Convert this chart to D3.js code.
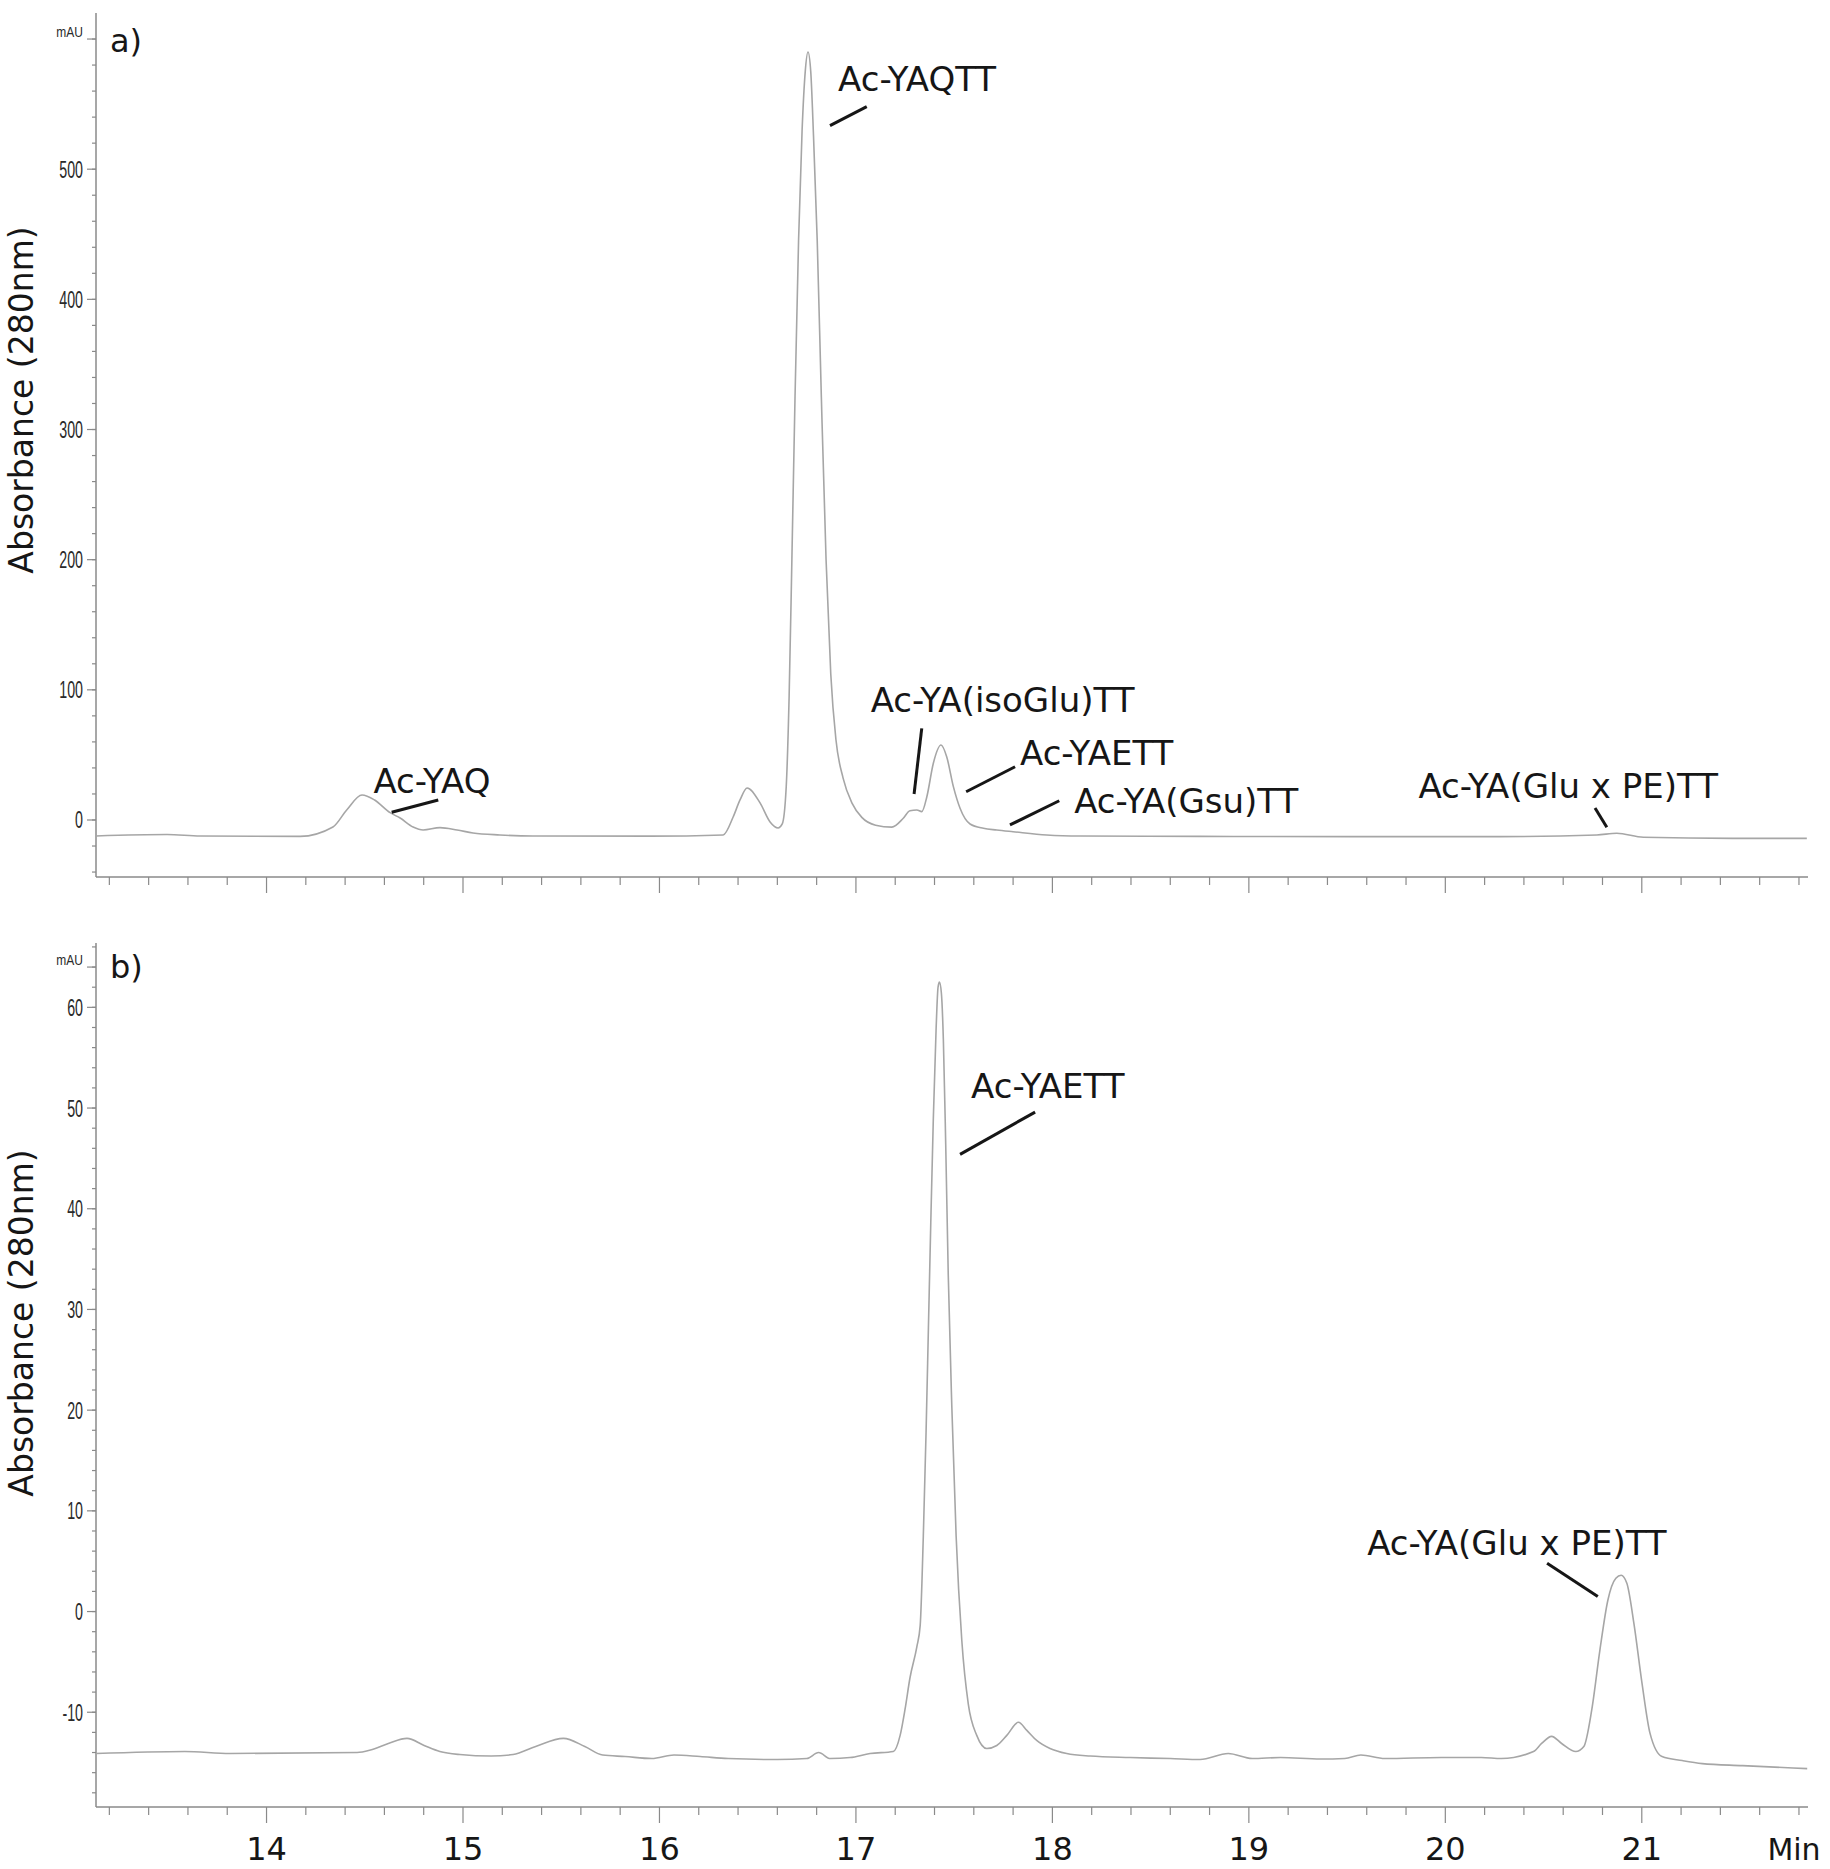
<!DOCTYPE html>
<html>
<head>
<meta charset="utf-8">
<script src="https://cdn.jsdelivr.net/npm/d3@7"></script>
<style>
  body { margin: 0; background: #fff; }
  svg { display: block; }
</style>
</head>
<body>
<div id="vis"></div>
<script>
// chromatogram a) - retention time (min) and absorbance (mAU)
const timeA = [13.132, 13.494, 13.662, 14.171, 14.338, 14.408, 14.486, 14.55, 14.629, 14.68,
  14.746, 14.797, 14.883, 14.97, 15.051, 15.188, 15.356, 15.952, 16.324, 16.375,
  16.41, 16.446, 16.512, 16.563, 16.604, 16.625, 16.645, 16.66, 16.674, 16.69,
  16.708, 16.726, 16.742, 16.756, 16.77, 16.784, 16.803, 16.824, 16.848, 16.872,
  16.898, 16.935, 16.98, 17.03, 17.1, 17.183, 17.241, 17.275, 17.31, 17.335,
  17.361, 17.394, 17.433, 17.462, 17.496, 17.53, 17.581, 17.649, 17.717, 17.8,
  17.971, 18.141, 18.752, 19.516, 20.279, 20.771, 20.873, 21.008, 21.465, 21.84];
const absA = [-12.3, -11.2, -12.3, -12.6, -5.4, 7.7, 19.2, 15.4, 5.6, 1.5,
  -5.4, -7.7, -5.9, -7.7, -10.0, -11.5, -12.3, -12.4, -11.5, 2.3,
  15.4, 24.6, 13.1, -1.5, -6.1, -3, 25, 95, 200, 325,
  445, 530, 575, 590, 575, 526, 445, 325, 200, 112,
  62, 32, 13, 2, -4, -5.5, 1.3, 7.1, 7.7, 6.4,
  17.9, 43.6, 57.6, 48.6, 25.6, 9.0, -3.1, -6.4, -7.7, -9.0,
  -11.5, -12.3, -12.6, -12.8, -12.8, -11.5, -10.2, -13.3, -14.1, -14.1];

// chromatogram b)
const timeB = [13.132, 13.585, 13.814, 14.461, 14.529, 14.62, 14.715, 14.802, 14.882, 14.984,
  15.143, 15.255, 15.37, 15.511, 15.62, 15.711, 15.825, 15.961, 16.074, 16.207,
  16.35, 16.6, 16.75, 16.81, 16.87, 16.97, 17.072, 17.19, 17.225, 17.25,
  17.275, 17.31, 17.327, 17.343, 17.357, 17.369, 17.381, 17.394, 17.408, 17.418,
  17.425, 17.435, 17.445, 17.457, 17.47, 17.488, 17.51, 17.539, 17.572, 17.615,
  17.666, 17.717, 17.768, 17.827, 17.87, 17.92, 17.988, 18.073, 18.192, 18.396,
  18.6, 18.752, 18.895, 19.017, 19.161, 19.365, 19.488, 19.57, 19.692, 19.979,
  20.183, 20.285, 20.449, 20.49, 20.541, 20.592, 20.664, 20.705, 20.745, 20.787,
  20.827, 20.868, 20.895, 20.924, 20.96, 21.001, 21.042, 21.103, 21.206, 21.308,
  21.513, 21.842];
const absB = [-14.1, -13.9, -14.1, -14.0, -13.75, -13.1, -12.6, -13.3, -13.9, -14.2,
  -14.35, -14.2, -13.4, -12.6, -13.4, -14.25, -14.4, -14.6, -14.25, -14.4,
  -14.6, -14.7, -14.6, -14.0, -14.6, -14.5, -14.1, -13.9, -12.3, -9.7,
  -6.6, -3.5, -1.4, 7.5, 17.8, 28.2, 38.6, 49.0, 57.8, 62.0,
  62.5, 61.4, 56.8, 46.4, 33.4, 20.4, 7.5, -2.9, -9.2, -12.3,
  -13.6, -13.3, -12.3, -11.0, -11.8, -12.8, -13.6, -14.1, -14.35, -14.5,
  -14.6, -14.7, -14.1, -14.6, -14.5, -14.65, -14.6, -14.25, -14.6, -14.5,
  -14.5, -14.6, -13.9, -13.1, -12.4, -13.1, -13.9, -13.4, -9.8, -3.8,
  1.1, 3.3, 3.6, 2.8, -1.2, -7.1, -12.1, -14.4, -14.8, -15.1,
  -15.3, -15.6];

// axis ranges and ticks
const timeDomain = [13.132, 21.846];
const timeMajor = [14, 15, 16, 17, 18, 19, 20, 21];
const yDomainA = [-43.8, 620];
const yMajorA = [0, 100, 200, 300, 400, 500];
const yDomainB = [-19.41, 66.39];
const yMajorB = [-10, 0, 10, 20, 30, 40, 50, 60];

// peak annotations: text, text anchor [t, v], leader line [t1, v1, t2, v2]
const namesA = ['Ac-YAQTT', 'Ac-YAQ', 'Ac-YA(isoGlu)TT', 'Ac-YAETT', 'Ac-YA(Gsu)TT', 'Ac-YA(Glu x PE)TT'];
const textAtA = [[16.909, 560.4], [14.544, 20.5], [17.075, 83.2], [17.835, 42.3], [18.111, 5.6], [19.863, 16.7]];
const leadA = [[16.868, 533.5, 17.055, 548.1], [14.637, 5.9, 14.874, 15.4], [17.335, 70.4, 17.296, 20.0],
  [17.561, 21.7, 17.81, 40.9], [17.784, -3.8, 18.035, 14.8], [20.762, 9.2, 20.822, -5.6]];
const namesB = ['Ac-YAETT', 'Ac-YA(Glu x PE)TT'];
const textAtB = [[17.586, 51.0], [19.602, 5.6]];
const leadB = [[17.53, 45.4, 17.912, 49.6], [20.518, 4.8, 20.776, 1.5]];

const W = 1830, H = 1869;
const AXIS = '#8a8a8a', TRACE = '#a6a6a6', INK = '#161616';
const LABEL_FONT = '"DejaVu Sans", Verdana, sans-serif';

const svg = d3.select('#vis').append('svg')
  .attr('width', W)
  .attr('height', H)
  .style('background', '#fff');

const x = d3.scaleLinear().domain(timeDomain).range([96, 1808]);

function drawPanel(opt) {
  const y = d3.scaleLinear().domain(opt.yDomain).range([opt.bottom, opt.top]);
  const g = svg.append('g');

  // y axis: line, minor + major ticks, condensed labels
  g.append('line')
    .attr('x1', 96).attr('x2', 96)
    .attr('y1', opt.top).attr('y2', opt.bottom)
    .attr('stroke', AXIS).attr('stroke-width', 1.5);

  const minorY = d3.range(Math.ceil(opt.yDomain[0] / opt.minorStep) * opt.minorStep, opt.yDomain[1], opt.minorStep);
  g.selectAll('.ymin').data(minorY).join('line')
    .attr('x1', 92).attr('x2', 96)
    .attr('y1', d => y(d)).attr('y2', d => y(d))
    .attr('stroke', AXIS).attr('stroke-width', 1.2);

  g.selectAll('.ymaj').data(opt.yMajor.concat([opt.unitAt])).join('line')
    .attr('x1', 87).attr('x2', 96)
    .attr('y1', d => y(d)).attr('y2', d => y(d))
    .attr('stroke', AXIS).attr('stroke-width', 1.2);

  g.selectAll('.ylab').data(opt.yMajor).join('text')
    .attr('transform', d => `translate(83,${y(d) + 8.5}) scale(0.62,1)`)
    .attr('text-anchor', 'end')
    .style('font-family', '"Liberation Sans", Arial, sans-serif')
    .style('font-size', '23px')
    .style('fill', '#2a2a2a')
    .text(d => d < 0 ? '-' + Math.abs(d) : d);

  g.append('text')
    .attr('transform', `translate(83,${y(opt.unitAt) - 2}) scale(0.8,1)`)
    .attr('text-anchor', 'end')
    .style('font-family', '"Liberation Sans", Arial, sans-serif')
    .style('font-size', '15px')
    .style('fill', '#2a2a2a')
    .text('mAU');

  // x axis: line and ticks every 0.2 min
  g.append('line')
    .attr('x1', 96).attr('x2', 1808)
    .attr('y1', opt.bottom).attr('y2', opt.bottom)
    .attr('stroke', AXIS).attr('stroke-width', 1.5);

  const minorX = d3.range(66, 110).map(i => i / 5);
  g.selectAll('.xt').data(minorX).join('line')
    .attr('x1', d => x(d)).attr('x2', d => x(d))
    .attr('y1', opt.bottom)
    .attr('y2', d => opt.bottom + (Math.abs(d - Math.round(d)) < 1e-6 ? 16 : 8))
    .attr('stroke', AXIS).attr('stroke-width', 1.2);

  if (opt.xLabels) {
    g.selectAll('.xl').data(timeMajor).join('text')
      .attr('x', d => x(d)).attr('y', opt.bottom + 53)
      .attr('text-anchor', 'middle')
      .style('font-family', LABEL_FONT)
      .style('font-size', '32px')
      .style('fill', INK)
      .text(d => d);
    g.append('text')
      .attr('x', 1794).attr('y', opt.bottom + 53)
      .attr('text-anchor', 'middle')
      .style('font-family', LABEL_FONT)
      .style('font-size', '30px')
      .style('fill', INK)
      .text('Min');
  }

  // trace
  const pts = opt.time.map((t, i) => [t, opt.abs[i]]);
  g.append('path')
    .datum(pts)
    .attr('fill', 'none')
    .attr('stroke', TRACE)
    .attr('stroke-width', 1.6)
    .attr('stroke-linejoin', 'round')
    .attr('d', d3.line().x(d => x(d[0])).y(d => y(d[1])).curve(d3.curveMonotoneX));

  // panel letter and axis title
  g.append('text')
    .attr('x', 110).attr('y', opt.letterY)
    .style('font-family', LABEL_FONT)
    .style('font-size', '32px')
    .style('fill', INK)
    .text(opt.letter);

  g.append('text')
    .attr('transform', `translate(33,${opt.titleY}) rotate(-90)`)
    .attr('text-anchor', 'middle')
    .style('font-family', LABEL_FONT)
    .style('font-size', '33px')
    .style('fill', INK)
    .text('Absorbance (280nm)');

  // peak annotations
  g.selectAll('.lead').data(opt.leads).join('line')
    .attr('x1', d => x(d[0])).attr('y1', d => y(d[1]))
    .attr('x2', d => x(d[2])).attr('y2', d => y(d[3]))
    .attr('stroke', INK).attr('stroke-width', 3);

  g.selectAll('.peak').data(opt.names).join('text')
    .attr('x', (d, i) => x(opt.textAt[i][0]))
    .attr('y', (d, i) => y(opt.textAt[i][1]))
    .style('font-family', LABEL_FONT)
    .style('font-size', '34px')
    .style('fill', INK)
    .text(d => d);
}

drawPanel({
  top: 13, bottom: 877, yDomain: yDomainA, yMajor: yMajorA, minorStep: 20, unitAt: 600,
  time: timeA, abs: absA, letter: 'a)', letterY: 52, titleY: 400,
  names: namesA, textAt: textAtA, leads: leadA, xLabels: false
});

drawPanel({
  top: 943, bottom: 1807, yDomain: yDomainB, yMajor: yMajorB, minorStep: 2, unitAt: 64,
  time: timeB, abs: absB, letter: 'b)', letterY: 978, titleY: 1323,
  names: namesB, textAt: textAtB, leads: leadB, xLabels: true
});
</script>
</body>
</html>
